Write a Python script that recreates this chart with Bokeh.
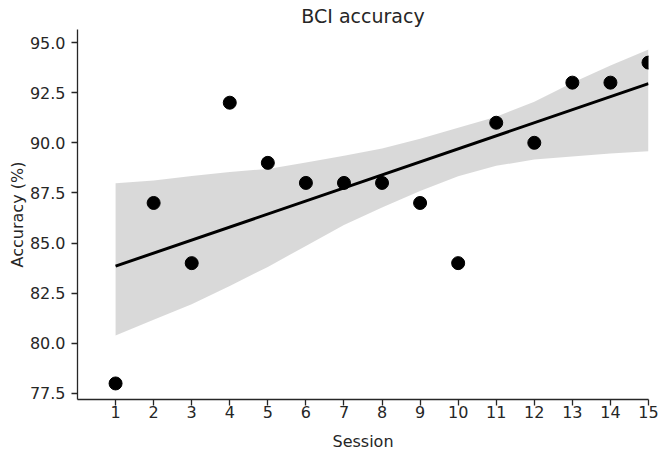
import numpy as np
from bokeh.plotting import figure
from bokeh.models import Range1d, FixedTicker, PrintfTickFormatter
from bokeh.embed import file_html
from bokeh.resources import INLINE

# Data
sessions = [1, 2, 3, 4, 5, 6, 7, 8, 9, 10, 11, 12, 13, 14, 15]
accuracy = [78, 87, 84, 92, 89, 88, 88, 88, 87, 84, 91, 90, 93, 93, 94]

# Confidence band
band_x = [1, 2, 3, 4, 5, 6, 7, 8, 9, 10, 11, 12, 13, 14, 15]
band_upper = [87.98, 88.12, 88.35, 88.55, 88.70, 89.02, 89.36, 89.71, 90.20,
              90.75, 91.30, 92.05, 93.00, 93.85, 94.65]
band_lower = [80.39, 81.18, 81.95, 82.86, 83.81, 84.86, 85.90, 86.77, 87.60,
              88.33, 88.85, 89.17, 89.32, 89.47, 89.58]

x_ticks = [1, 2, 3, 4, 5, 6, 7, 8, 9, 10, 11, 12, 13, 14, 15]
y_ticks = [77.5, 80.0, 82.5, 85.0, 87.5, 90.0, 92.5, 95.0]

# Regression fit
slope, intercept = np.polyfit(sessions, accuracy, 1)
fit_x = [sessions[0], sessions[-1]]
fit_y = [intercept + slope * v for v in fit_x]

TEXT = "#262626"
FONT = "DejaVu Sans"

p = figure(width=661, height=453, output_backend="svg", toolbar_location=None,
           x_range=Range1d(0, 15), y_range=Range1d(77.2, 95.65),
           min_border_left=77, min_border_right=13, min_border_top=29,
           min_border_bottom=54, title="BCI accuracy")

p.title.align = "center"
p.title.text_font = FONT
p.title.text_font_size = "19px"
p.title.text_font_style = "normal"
p.title.text_color = TEXT
p.title.standoff = 5

p.varea(x=band_x, y1=band_lower, y2=band_upper, fill_color="black", fill_alpha=0.15)
p.line(fit_x, fit_y, line_color="black", line_width=3)
p.scatter(sessions, accuracy, size=13, fill_color="black", line_color="black")

p.xgrid.visible = False
p.ygrid.visible = False
p.outline_line_color = None
p.background_fill_color = "white"
p.border_fill_color = "white"

p.xaxis.ticker = FixedTicker(ticks=x_ticks)
p.yaxis.ticker = FixedTicker(ticks=y_ticks)
p.yaxis.formatter = PrintfTickFormatter(format="%.1f")
p.xaxis.axis_label = "Session"
p.yaxis.axis_label = "Accuracy (%)"

for ax in (p.xaxis, p.yaxis):
    ax.axis_line_color = TEXT
    ax.axis_line_width = 1.3
    ax.major_tick_line_color = TEXT
    ax.major_tick_line_width = 1.3
    ax.major_tick_out = 6
    ax.major_tick_in = 0
    ax.minor_tick_line_color = None
    ax.major_label_text_font = FONT
    ax.major_label_text_font_size = "16px"
    ax.major_label_text_color = TEXT
    ax.axis_label_text_font = FONT
    ax.axis_label_text_font_size = "16px"
    ax.axis_label_text_font_style = "normal"
    ax.axis_label_text_color = TEXT

p.xaxis.major_label_standoff = 0
p.xaxis.axis_label_standoff = 11
p.yaxis.major_label_standoff = 6
p.yaxis.axis_label_standoff = 0

open("out.html", "w").write(file_html(p, INLINE))
